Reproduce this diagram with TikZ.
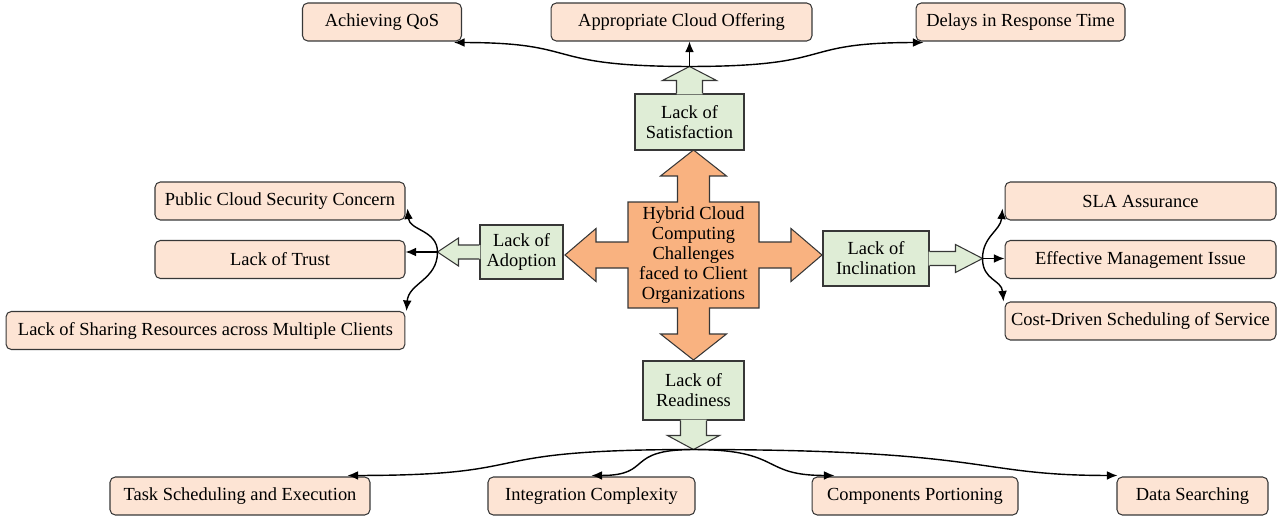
\documentclass[tikz,border=0pt]{standalone}
\usepackage{fontspec}
\setmainfont{Liberation Serif}
\usepackage{xcolor}
\usetikzlibrary{arrows.meta,calc}
\definecolor{peach}{RGB}{253,228,212}
\definecolor{sage}{RGB}{223,237,214}
\definecolor{core}{RGB}{249,178,128}
\definecolor{edge}{RGB}{55,55,55}
\tikzstyle{issue} = [rectangle, rounded corners=3pt, minimum height=0.76cm, text centered, draw=edge, fill=peach, line width=0.6pt]
\tikzstyle{cause} = [rectangle, align=center, draw=edge, fill=sage, line width=0.6pt]
\tikzstyle{arrow} = [line width=0.8pt, -{Latex[length=6pt,width=5pt]}]

\begin{document}
\begin{tikzpicture}[x=0.02cm, y=0.02cm, font=\fontsize{10.5}{11.4}\selectfont]
\useasboundingbox (0,0) rectangle (1282,-517);

% centre cross
\draw[edge, fill=core, line width=0.6pt, shift={(693.5,-255)}]
  (-65.5,53) -- (-16,53) -- (-16,79) -- (-33,79) -- (0,105) -- (33,79) -- (16,79) -- (16,53)
  -- (65.5,53) -- (65.5,13) -- (97.5,13) -- (97.5,26.5) -- (128.5,0) -- (97.5,-26.5) -- (97.5,-13) -- (65.5,-13)
  -- (65.5,-53) -- (16,-53) -- (16,-79) -- (33,-79) -- (0,-105) -- (-33,-79) -- (-16,-79) -- (-16,-53)
  -- (-65.5,-53) -- (-65.5,-13) -- (-97.5,-13) -- (-97.5,-26.5) -- (-128.5,0) -- (-97.5,26.5) -- (-97.5,13) -- (-65.5,13) -- cycle;
\node[align=center] (hub) at (693.5,-255) {Hybrid Cloud\\Computing\\Challenges\\faced to Client\\Organizations};

% four causes
\node[cause, minimum width=2.18cm, minimum height=1.12cm] (sat) at (689.5,-122) {Lack of\\Satisfaction};
\node[cause, minimum width=1.66cm, minimum height=1.08cm] (adop) at (521.5,-252) {Lack of\\Adoption};
\node[cause, minimum width=2.12cm, minimum height=1.1cm] (incl) at (876,-258.5) {Lack of\\Inclination};
\node[cause, minimum width=2.02cm, minimum height=1.18cm] (ready) at (693.5,-390.5) {Lack of\\Readiness};

\fill[sage, shift={(sat.north)}] (-13,-1) -- (-13,13) -- (-27,13) -- (0,27) -- (27,13) -- (13,13) -- (13,-1) -- cycle;
\draw[edge, line width=0.6pt, shift={(sat.north)}] (-13,0) -- (-13,13) -- (-27,13) -- (0,27) -- (27,13) -- (13,13) -- (13,0);
\fill[sage, shift={(ready.south)}, rotate=180] (-13,-1) -- (-13,15) -- (-26,15) -- (0,29) -- (26,15) -- (13,15) -- (13,-1) -- cycle;
\draw[edge, line width=0.6pt, shift={(ready.south)}, rotate=180] (-13,0) -- (-13,15) -- (-26,15) -- (0,29) -- (26,15) -- (13,15) -- (13,0);
\fill[sage, shift={(adop.west)}, rotate=90] (-7,-1) -- (-7,21) -- (-14,21) -- (0,42) -- (14,21) -- (7,21) -- (7,-1) -- cycle;
\draw[edge, line width=0.6pt, shift={(adop.west)}, rotate=90] (-7,0) -- (-7,21) -- (-14,21) -- (0,42) -- (14,21) -- (7,21) -- (7,0);
\fill[sage, shift={(incl.east)}, rotate=-90] (-7,-1) -- (-7,26) -- (-14,26) -- (0,53) -- (14,26) -- (7,26) -- (7,-1) -- cycle;
\draw[edge, line width=0.6pt, shift={(incl.east)}, rotate=-90] (-7,0) -- (-7,26) -- (-14,26) -- (0,53) -- (14,26) -- (7,26) -- (7,0);

\coordinate (sattip) at ($(sat.north)+(0,27)$);
\coordinate (readtip) at ($(ready.south)+(0,-29)$);
\coordinate (adoptip) at ($(adop.west)+(-42,0)$);
\coordinate (incltip) at ($(incl.east)+(53,0)$);

% issues
\node[issue, minimum width=3.18cm] (qos) at (382,-22) {Achieving QoS};
\node[issue, minimum width=5.22cm] (offer) at (681.5,-22) {Appropriate Cloud Offering};
\node[issue, minimum width=4.18cm] (delay) at (1020.5,-22) {Delays in Response Time};
\node[issue, minimum width=5cm] (pcsc) at (280,-201) {Public Cloud Security Concern};
\node[issue, minimum width=5cm] (trust) at (280,-259.5) {Lack of Trust};
\node[issue, minimum width=7.98cm] (share) at (205.5,-330.5) {Lack of Sharing Resources across Multiple Clients};
\node[issue, minimum width=5.42cm] (sla) at (1140.5,-201) {SLA Assurance};
\node[issue, minimum width=5.42cm] (mgmt) at (1140.5,-259.5) {Effective Management Issue};
\node[issue, minimum width=5.42cm] (cost) at (1140.5,-321) {Cost-Driven Scheduling of Service};
\node[issue, minimum width=5.2cm] (task) at (240,-496) {Task Scheduling and Execution};
\node[issue, minimum width=4.14cm] (integ) at (591.5,-496) {Integration Complexity};
\node[issue, minimum width=4.12cm] (comp) at (915,-496) {Components Portioning};
\node[issue, minimum width=3.02cm] (data) at (1192.5,-496) {Data Searching};

% connectors
\draw[arrow] (sattip) -- (sattip |- offer.south);
\draw[arrow] (sattip) .. controls +(-150,0) and +(130,0) .. ($(qos.south east)+(-8,-1)$);
\draw[arrow] (sattip) .. controls +(150,0) and +(-130,0) .. ($(delay.south west)+(8,-1)$);

\draw[arrow] (adoptip) -- (adoptip -| trust.east);
\draw[arrow] (adoptip) .. controls +(0,22) and +(2,-22) .. ($(pcsc.south east)+(2,12)$);
\draw[arrow] (adoptip) .. controls +(0,-28) and +(2,28) .. ($(share.north east)+(1,0)$);

\draw[arrow] (incltip) -- (incltip -| mgmt.west);
\draw[arrow] (incltip) .. controls +(0,22) and +(-2,-22) .. ($(sla.south west)+(-2,12)$);
\draw[arrow] (incltip) .. controls +(0,-22) and +(-2,22) .. ($(cost.north west)+(-1,0)$);

\draw[arrow] (readtip) .. controls +(-230,0) and +(200,0) .. ($(task.north east)+(-23,1)$);
\draw[arrow] (readtip) .. controls +(-70,0) and +(62,0) .. ($(integ.north)+(0,1)$);
\draw[arrow] (readtip) .. controls +(90,0) and +(-75,0) .. ($(comp.north west)+(23,1)$);
\draw[arrow] (readtip) .. controls +(300,0) and +(-145,0) .. ($(data.north west)+(1,1)$);
\end{tikzpicture}
\end{document}
